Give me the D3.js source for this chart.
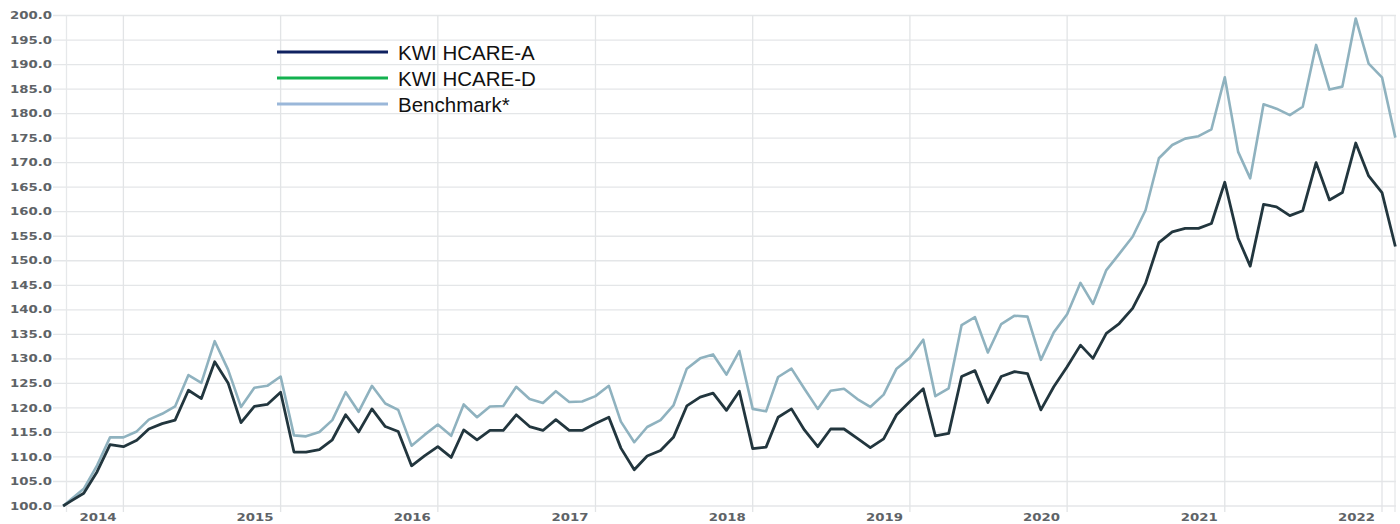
<!DOCTYPE html>
<html>
<head>
<meta charset="utf-8">
<script src="https://cdn.jsdelivr.net/npm/d3@7"></script>
<style>
  html, body { margin: 0; padding: 0; background: #fff; }
  svg { display: block; }
</style>
</head>
<body>
<svg id="chart" width="1400" height="524"></svg>
<script>
// ---------------------------------------------------------------------------
// Data (index, base 100) - first point is the launch date, then monthly
// ---------------------------------------------------------------------------
const startDate = "2013-08-14";
const firstMonth = "2013-09-01";
const lastMonth = "2022-02-01";

const hcareA = [
    100.0, 101.0, 102.6, 107.0, 112.5,
    112.1, 113.4, 115.7, 116.8, 117.5, 123.6, 121.9, 129.4, 125.1, 117.0, 120.3, 120.7,
    123.2, 111.0, 111.0, 111.5, 113.5, 118.6, 115.1, 119.8, 116.2, 115.2, 108.2, 110.2,
    112.1, 109.9, 115.5, 113.5, 115.4, 115.4, 118.6, 116.2, 115.4, 117.6, 115.4, 115.4,
    116.8, 118.1, 111.8, 107.4, 110.2, 111.3, 114.0, 120.4, 122.2, 123.0, 119.5, 123.4,
    111.7, 112.0, 118.1, 119.8, 115.5, 112.1, 115.7, 115.7, 113.8, 111.9, 113.7, 118.6,
    121.3, 123.9, 114.3, 114.8, 126.4, 127.6, 121.1, 126.4, 127.4, 127.0, 119.6, 124.3,
    128.4, 132.8, 130.1, 135.2, 137.2, 140.3, 145.4, 153.7, 155.9, 156.6, 156.6, 157.6,
    166.0, 154.6, 148.9, 161.5, 161.0, 159.2, 160.2, 170.0, 162.4, 163.9, 174.0, 167.3,
    163.9, 152.9
];

const benchmark = [
    100.0, 101.3, 103.5, 108.3, 114.0,
    114.0, 115.2, 117.6, 118.8, 120.3, 126.7, 125.1, 133.6, 127.8, 120.2, 124.1, 124.5,
    126.4, 114.4, 114.2, 115.1, 117.5, 123.2, 119.2, 124.5, 120.9, 119.6, 112.3, 114.5,
    116.6, 114.3, 120.7, 118.1, 120.3, 120.4, 124.3, 121.8, 121.0, 123.4, 121.2, 121.3,
    122.4, 124.5, 117.2, 113.0, 116.1, 117.5, 120.5, 128.0, 130.1, 130.9, 126.8, 131.6,
    119.8, 119.3, 126.3, 128.0, 123.9, 119.8, 123.5, 123.9, 121.8, 120.2, 122.7, 128.0,
    130.2, 133.9, 122.4, 124.0, 136.9, 138.5, 131.3, 137.1, 138.8, 138.6, 129.8, 135.4,
    139.1, 145.5, 141.2, 148.1, 151.4, 154.9, 160.3, 170.9, 173.6, 174.9, 175.4, 176.8,
    187.4, 172.2, 166.8, 181.9, 181.0, 179.7, 181.4, 194.0, 184.9, 185.5, 199.4, 190.2,
    187.4, 175.1
];

const yTicks = d3.range(100, 200.1, 5);
const yearTicks = ["2014", "2015", "2016", "2017", "2018", "2019", "2020", "2021", "2022"];

const legendItems = [
    { label: "KWI HCARE-A", color: "#0f2160" },
    { label: "KWI HCARE-D", color: "#13b14f" },
    { label: "Benchmark*", color: "#9ab7d9" }
];

// ---------------------------------------------------------------------------
// Layout
// ---------------------------------------------------------------------------
const parse = d3.timeParse("%Y-%m-%d");
const dates = [parse(startDate)].concat(
    d3.timeMonth.range(parse(firstMonth), d3.timeMonth.offset(parse(lastMonth), 1))
);

const svg = d3.select("#chart");

const plot = { left: 53, right: 1396, top: 15.5, bottom: 506 };

const x = d3.scaleTime()
    .domain([parse("2014-01-01"), parse("2022-01-01")])
    .range([123.4, 1382]);

const y = d3.scaleLinear()
    .domain([100, 200])
    .range([plot.bottom, plot.top]);

// horizontal grid
svg.append("g")
    .attr("class", "grid-y")
    .selectAll("line")
    .data(yTicks)
    .join("line")
    .attr("x1", plot.left)
    .attr("x2", plot.right)
    .attr("y1", d => y(d))
    .attr("y2", d => y(d))
    .attr("stroke", "#e4e6e8")
    .attr("stroke-width", 1.3);

// vertical grid (year starts + frame edges)
const yearDates = yearTicks.map(t => parse(t + "-01-01"));
svg.append("g")
    .attr("class", "grid-x")
    .selectAll("line")
    .data(yearDates)
    .join("line")
    .attr("x1", d => x(d))
    .attr("x2", d => x(d))
    .attr("y1", plot.top)
    .attr("y2", plot.bottom + 6)
    .attr("stroke", "#e2e4e6")
    .attr("stroke-width", 1.3);

svg.append("g")
    .selectAll("line")
    .data([66.5, plot.right - 1])
    .join("line")
    .attr("x1", d => d)
    .attr("x2", d => d)
    .attr("y1", plot.top)
    .attr("y2", plot.bottom + 6)
    .attr("stroke", "#e6e8ea")
    .attr("stroke-width", 1.3);

// y labels
svg.append("g")
    .attr("class", "y-labels")
    .selectAll("text")
    .data(yTicks)
    .join("text")
    .attr("x", 10)
    .attr("y", d => y(d) + 3.6)
    .attr("textLength", 42)
    .attr("lengthAdjust", "spacingAndGlyphs")
    .attr("font-family", "DejaVu Sans")
    .attr("font-weight", "bold")
    .attr("font-size", 10)
    .attr("fill", "#5e6367")
    .text(d => d3.format(".1f")(d));

// year labels, drawn just left of their gridline
svg.append("g")
    .attr("class", "x-labels")
    .selectAll("text")
    .data(yearDates)
    .join("text")
    .attr("x", d => x(d) - 44)
    .attr("y", 520.5)
    .attr("textLength", 37)
    .attr("lengthAdjust", "spacingAndGlyphs")
    .attr("font-family", "DejaVu Sans")
    .attr("font-weight", "bold")
    .attr("font-size", 10)
    .attr("fill", "#5e6367")
    .text(d => d3.timeFormat("%Y")(d));

// series lines
const line = d3.line()
    .x((d, i) => x(dates[i]))
    .y(d => y(d));

svg.append("path")
    .datum(benchmark)
    .attr("fill", "none")
    .attr("stroke", "#8fb2bf")
    .attr("stroke-width", 2.6)
    .attr("stroke-linejoin", "round")
    .attr("d", line);

svg.append("path")
    .datum(hcareA)
    .attr("fill", "none")
    .attr("stroke", "#22363e")
    .attr("stroke-width", 2.8)
    .attr("stroke-linejoin", "round")
    .attr("d", line);

// legend
const legend = svg.append("g")
    .attr("class", "legend")
    .attr("transform", "translate(277,52)");

const rows = legend.selectAll("g")
    .data(legendItems)
    .join("g")
    .attr("transform", (d, i) => `translate(0,${i * 26})`);

rows.append("line")
    .attr("x1", 0)
    .attr("x2", 111)
    .attr("stroke", d => d.color)
    .attr("stroke-width", 3);

rows.append("text")
    .attr("x", 121)
    .attr("y", 7.5)
    .attr("font-family", "Liberation Sans, Arial, sans-serif")
    .attr("font-size", 20.5)
    .attr("fill", "#111")
    .text(d => d.label);
</script>
</body>
</html>
